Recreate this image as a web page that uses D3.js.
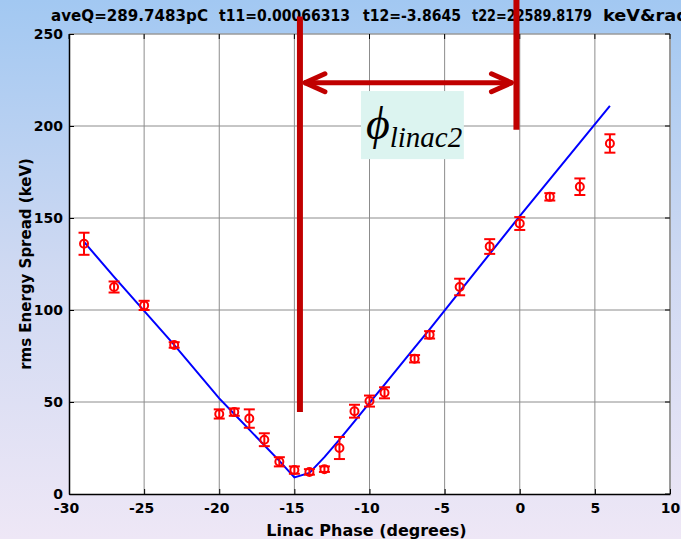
<!DOCTYPE html>
<html lang="en">
<head>
<meta charset="utf-8">
<title>rms Energy Spread vs Linac Phase</title>
<script src="https://d3js.org/d3.v7.min.js"></script>
<style>
  body { margin: 0; }
  svg { display: block; font-family: "DejaVu Sans", sans-serif; font-weight: bold; }
</style>
</head>
<body>
<script>
// measured points (deg, keV)
var phase  = [-29, -27, -25, -23, -20, -19, -18, -17, -16, -15, -14, -13, -12, -11, -10, -9, -7, -6, -4, -2, 0, 2, 4, 6];
var spread = [136, 112.5, 102.5, 81, 43.5, 44.5, 41, 29.5, 17.5, 13, 12, 13.5, 25, 45, 50.5, 55, 73.5, 86.5, 112.5, 134.5, 147, 161.5, 167, 190.5];
var errBar = [6, 3, 2.5, 1.5, 2.5, 2, 5, 3.5, 2.5, 2, 1.5, 1.5, 6, 3.5, 3, 3, 2, 2, 4.5, 4, 3.5, 2, 4.5, 5];
// fitted curve at the same phases
var fitVal = [137, 118, 99.5, 81, 52, 43.5, 35, 26.5, 18, 9, 11.5, 20, 29.5, 39.5, 49.5, 59.5, 79.5, 89.5, 110, 130.5, 151, 171, 191, 211];

var xTicks = [-30, -25, -20, -15, -10, -5, 0, 5, 10];
var yTicks = [0, 50, 100, 150, 200, 250];

// title pieces, where they start and how wide they run
var titleParts = ["aveQ=289.7483pC", "t11=0.00066313", "t12=-3.8645", "t22=22589.8179", "keV&rad"];
var titleX = [51, 219, 363, 472, 603];
var titleW = [157, 131, 98, 120, 86];

// phase-advance annotation (data coords)
var markL = {phase: -14.63, from: 44.5, to: 259.5};
var markR = {phase: -0.22, from: 198, to: 270};
var arrowY = 223.5;
var labelBox = {x0: -10.57, x1: -3.72, y0: 182, y1: 219};

var W = 681, H = 539;
var x = d3.scaleLinear().domain([-30, 10]).range([69, 670]);
var y = d3.scaleLinear().domain([0, 250]).range([494, 34]);
var fmt = function(d) { return String(d); };   // plain hyphen minus

var svg = d3.select("body").append("svg")
    .attr("width", W)
    .attr("height", H);

var defs = svg.append("defs");
var grad = defs.append("linearGradient")
    .attr("id", "bg")
    .attr("x1", 0).attr("y1", 0).attr("x2", 0).attr("y2", 1);
grad.append("stop").attr("offset", "0%").attr("stop-color", "#a2c8f2");
grad.append("stop").attr("offset", "50%").attr("stop-color", "#cfd9f2");
grad.append("stop").attr("offset", "100%").attr("stop-color", "#eee7f6");

svg.append("rect")
    .attr("width", W).attr("height", H)
    .attr("fill", "url(#bg)");

svg.append("rect")
    .attr("x", x(-30)).attr("y", y(250))
    .attr("width", x(10) - x(-30)).attr("height", y(0) - y(250))
    .attr("fill", "#fff");

// grid
svg.append("g").selectAll("line")
    .data(xTicks.slice(1, -1))
    .enter().append("line")
    .attr("x1", function(d) { return x(d); })
    .attr("x2", function(d) { return x(d); })
    .attr("y1", y(0)).attr("y2", y(250))
    .attr("stroke", "#8c8c8c").attr("stroke-width", 1);

svg.append("g").selectAll("line")
    .data(yTicks.slice(1, -1))
    .enter().append("line")
    .attr("y1", function(d) { return y(d); })
    .attr("y2", function(d) { return y(d); })
    .attr("x1", x(-30)).attr("x2", x(10))
    .attr("stroke", "#8c8c8c").attr("stroke-width", 1);

// box edges (top/right look grey in the original)
svg.append("line")
    .attr("x1", x(-30)).attr("x2", x(10)).attr("y1", y(250)).attr("y2", y(250))
    .attr("stroke", "#9a9a9a").attr("stroke-width", 1.5);
svg.append("line")
    .attr("x1", x(10)).attr("x2", x(10)).attr("y1", y(250)).attr("y2", y(0))
    .attr("stroke", "#9a9a9a").attr("stroke-width", 2);

// axes
var xAxis = svg.append("g")
    .attr("transform", "translate(0," + y(0) + ")")
    .call(d3.axisBottom(x).tickValues(xTicks).tickFormat(fmt)
        .tickSize(-5).tickSizeOuter(0).tickPadding(9));
var yAxis = svg.append("g")
    .attr("transform", "translate(" + x(-30) + ",0)")
    .call(d3.axisLeft(y).tickValues(yTicks).tickFormat(fmt)
        .tickSize(-5).tickSizeOuter(0).tickPadding(6));

[xAxis, yAxis].forEach(function(g) {
    g.select(".domain").attr("stroke", "#000").attr("stroke-width", 1.5);
    g.selectAll(".tick line").attr("stroke", "#000");
    g.selectAll("text")
        .attr("fill", "#000")
        .style("font-family", "DejaVu Sans, sans-serif")
        .style("font-weight", "bold")
        .style("font-size", "14px");
});
// negative labels sit a bit left of their tick
xAxis.selectAll(".tick text")
    .attr("dx", function(d) { return d < 0 ? -3 : 0; });

// top and right ticks
svg.append("g").selectAll("line")
    .data(xTicks)
    .enter().append("line")
    .attr("x1", function(d) { return x(d); })
    .attr("x2", function(d) { return x(d); })
    .attr("y1", y(250)).attr("y2", y(250) + 5)
    .attr("stroke", "#000");
svg.append("g").selectAll("line")
    .data(yTicks)
    .enter().append("line")
    .attr("y1", function(d) { return y(d); })
    .attr("y2", function(d) { return y(d); })
    .attr("x1", x(10)).attr("x2", x(10) - 5)
    .attr("stroke", "#000");

// fit curve
var pts = phase.map(function(p, i) { return [p, fitVal[i]]; });
svg.append("path")
    .datum(pts)
    .attr("d", d3.line()
        .x(function(d) { return x(d[0]); })
        .y(function(d) { return y(d[1]); }))
    .attr("fill", "none")
    .attr("stroke", "#0000ff")
    .attr("stroke-width", 2);

// data with error bars
var node = svg.append("g").selectAll("g")
    .data(phase.map(function(p, i) { return {p: p, v: spread[i], e: errBar[i]}; }))
    .enter().append("g")
    .attr("stroke", "#ff0000")
    .attr("stroke-width", 2)
    .attr("fill", "none");

node.append("line")
    .attr("x1", function(d) { return x(d.p); })
    .attr("x2", function(d) { return x(d.p); })
    .attr("y1", function(d) { return y(d.v - d.e); })
    .attr("y2", function(d) { return y(d.v + d.e); });
node.append("line")
    .attr("x1", function(d) { return x(d.p) - 5.5; })
    .attr("x2", function(d) { return x(d.p) + 5.5; })
    .attr("y1", function(d) { return y(d.v - d.e); })
    .attr("y2", function(d) { return y(d.v - d.e); });
node.append("line")
    .attr("x1", function(d) { return x(d.p) - 5.5; })
    .attr("x2", function(d) { return x(d.p) + 5.5; })
    .attr("y1", function(d) { return y(d.v + d.e); })
    .attr("y2", function(d) { return y(d.v + d.e); });
node.append("circle")
    .attr("cx", function(d) { return x(d.p); })
    .attr("cy", function(d) { return y(d.v); })
    .attr("r", 4);

// axis titles
svg.append("text")
    .attr("x", (x(-30) + x(10)) / 2 - 3)
    .attr("y", 536)
    .attr("text-anchor", "middle")
    .style("font-size", "16px")
    .text("Linac Phase (degrees)");

svg.append("text")
    .attr("transform", "translate(31," + ((y(0) + y(250)) / 2) + ") rotate(-90)")
    .attr("text-anchor", "middle")
    .style("font-size", "15px")
    .text("rms Energy Spread (keV)");

// title
svg.append("g").selectAll("text")
    .data(titleParts)
    .enter().append("text")
    .attr("x", function(d, i) { return titleX[i]; })
    .attr("y", 21)
    .style("font-size", "15px")
    .attr("textLength", function(d, i) { return titleW[i]; })
    .attr("lengthAdjust", "spacingAndGlyphs")
    .text(function(d) { return d; });

// annotation
var red = "#c00000";
svg.append("line")
    .attr("x1", x(markL.phase)).attr("x2", x(markL.phase))
    .attr("y1", y(markL.from)).attr("y2", y(markL.to))
    .attr("stroke", red).attr("stroke-width", 6);
svg.append("line")
    .attr("x1", x(markR.phase)).attr("x2", x(markR.phase))
    .attr("y1", y(markR.from)).attr("y2", y(markR.to))
    .attr("stroke", red).attr("stroke-width", 6);

var ax0 = x(markL.phase) + 4, ax1 = x(markR.phase) - 4, ay = y(arrowY);
svg.append("line")
    .attr("x1", ax0).attr("x2", ax1).attr("y1", ay).attr("y2", ay)
    .attr("stroke", red).attr("stroke-width", 5);
svg.append("path")
    .attr("d", "M" + (ax0 + 21) + "," + (ay - 9) + "L" + (ax0 + 1) + "," + ay + "L" + (ax0 + 21) + "," + (ay + 9) +
               "M" + (ax1 - 21) + "," + (ay - 9) + "L" + (ax1 - 1) + "," + ay + "L" + (ax1 - 21) + "," + (ay + 9))
    .attr("fill", "none")
    .attr("stroke", red).attr("stroke-width", 5)
    .attr("stroke-linecap", "round").attr("stroke-linejoin", "round");

svg.append("rect")
    .attr("x", x(labelBox.x0)).attr("y", y(labelBox.y1))
    .attr("width", x(labelBox.x1) - x(labelBox.x0))
    .attr("height", y(labelBox.y0) - y(labelBox.y1))
    .attr("fill", "#dcf4f0");

var lbl = svg.append("text")
    .attr("x", x(labelBox.x0) + 5)
    .attr("y", y(labelBox.y0) - 12)
    .style("font-family", "Liberation Serif, DejaVu Serif, serif")
    .style("font-weight", "normal")
    .style("font-style", "italic");
lbl.append("tspan").style("font-size", "46px").attr("dy", -8).text("\u03D5");
lbl.append("tspan").style("font-size", "29px").attr("dy", 8).text("linac2");
</script>
</body>
</html>
